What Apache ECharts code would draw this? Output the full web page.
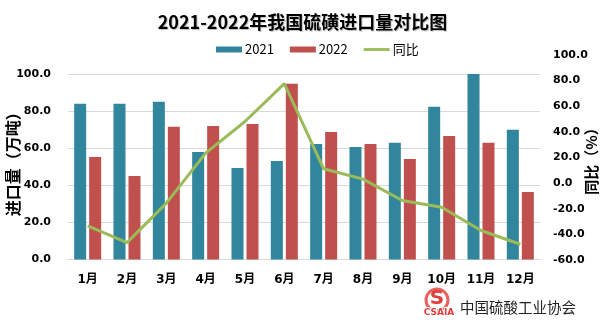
<!DOCTYPE html>
<html>
<head>
<meta charset="utf-8">
<script src="https://cdn.jsdelivr.net/npm/echarts@6/dist/echarts.min.js"></script>
<style>html,body{margin:0;padding:0;background:#fff}#c{width:605px;height:324px}</style>
</head>
<body>
<div id="c"></div>
<script>
var titleText = '2021-2022年我国硫磺进口量对比图';
var months = ['1月','2月','3月','4月','5月','6月','7月','8月','9月','10月','11月','12月'];
var v2021 = [83.9, 83.9, 85.0, 58.0, 49.3, 53.1, 62.3, 60.7, 62.9, 82.3, 100.0, 69.9];
var v2022 = [55.3, 45.0, 71.5, 72.0, 73.1, 94.8, 68.8, 62.3, 54.2, 66.6, 62.9, 36.4];
var yoy = [-33.4, -46.4, -15.6, 23.4, 48.1, 77.6, 11.2, 3.1, -13.6, -18.8, -37.0, -47.7];
var seriesNames = ['2021', '2022', '同比'];
var leftName = '进口量（万吨）';
var rightName = '同比（%）';
var sourceText = '中国硫酸工业协会';

var NUMF = 'DejaVu Sans, "Noto Sans CJK SC", sans-serif';
var CJKF = '"Noto Sans CJK SC", sans-serif';
var chart = echarts.init(document.getElementById('c'), null, {renderer: 'canvas'});
chart.setOption({
  animation: false,
  backgroundColor: '#fff',
  title: {
    text: titleText, left: 'center', top: 13, padding: 0,
    textStyle: {fontFamily: CJKF, fontSize: 18, fontWeight: 'bold', color: '#000',
      textShadowColor: 'rgba(0,0,0,0.25)', textShadowOffsetX: 1, textShadowOffsetY: 1, textShadowBlur: 1}
  },
  legend: {
    left: 216, top: 43, padding: 0, itemWidth: 26, itemHeight: 6, itemGap: 16,
    textStyle: {fontFamily: CJKF, fontSize: 13, color: '#000', padding: [0,0,0,-2]},
    data: [
      {name: seriesNames[0], icon: 'rect'},
      {name: seriesNames[1], icon: 'rect'},
      {name: seriesNames[2], icon: 'path://M0,0 M0,1.6 L26,1.6 L26,4.4 L0,4.4 Z M26,6'}
    ]
  },
  grid: [
    {left: 68, right: 65, top: 74, bottom: 64.5, outerBoundsMode: 'none', containLabel: false},
    {left: 68, right: 65, top: 55, bottom: 64, outerBoundsMode: 'none', containLabel: false}
  ],
  xAxis: [
    {type: 'category', gridIndex: 0, data: months,
      axisLine: {lineStyle: {color: '#D9D9D9'}}, axisTick: {show: false},
      axisLabel: {fontFamily: NUMF, fontWeight: 'bold', fontSize: 12, color: '#000', margin: 14}},
    {type: 'category', gridIndex: 1, data: months, show: false}
  ],
  yAxis: [
    {type: 'value', gridIndex: 0, min: 0, max: 100, interval: 20,
      name: leftName, nameLocation: 'middle', nameGap: 47, nameMoveOverlap: false,
      nameTextStyle: {fontFamily: CJKF, fontSize: 16, fontWeight: 'bold', color: '#000', padding: [0,0,0,13]},
      axisLine: {show: false}, axisTick: {show: false},
      splitLine: {lineStyle: {color: '#D9D9D9'}},
      axisLabel: {fontFamily: NUMF, fontWeight: 'bold', fontSize: 11, color: '#000', margin: 17,
        formatter: function (v) { return v.toFixed(1); }}},
    {type: 'value', gridIndex: 1, position: 'right', min: -60, max: 100, interval: 20,
      name: rightName, nameLocation: 'middle', nameGap: 44, nameRotate: 90, nameMoveOverlap: false,
      nameTextStyle: {fontFamily: CJKF, fontSize: 15, fontWeight: 'bold', color: '#000'},
      axisLine: {show: false}, axisTick: {show: false}, splitLine: {show: false},
      axisLabel: {fontFamily: NUMF, fontWeight: 'bold', fontSize: 11, color: '#000', margin: 13,
        formatter: function (v) { return v.toFixed(1); }}}
  ],
  series: [
    {name: seriesNames[0], type: 'bar', xAxisIndex: 0, yAxisIndex: 0, data: v2021,
      barWidth: 12, barGap: '25%', itemStyle: {color: '#31859C'}},
    {name: seriesNames[1], type: 'bar', xAxisIndex: 0, yAxisIndex: 0, data: v2022,
      barWidth: 12, barGap: '25%', itemStyle: {color: '#C0504D'}},
    {name: seriesNames[2], type: 'line', xAxisIndex: 1, yAxisIndex: 1, data: yoy,
      symbol: 'none', lineStyle: {color: '#9BBB59', width: 3}, itemStyle: {color: '#9BBB59'}}
  ],
  graphic: [
    {type: 'circle', shape: {cx: 437, cy: 300, r: 11}, style: {fill: '#fff', stroke: '#E8625E', lineWidth: 3}},
    {type: 'text', x: 437, y: 299, style: {text: 'S', font: 'bold 20px "DejaVu Sans"', fill: '#E0403C', align: 'center', verticalAlign: 'middle'}},
    {type: 'text', x: 439, y: 312.5, style: {text: 'CSAIA', font: 'bold 9px "DejaVu Sans"', fill: '#E0403C', stroke: '#fff', lineWidth: 2, align: 'center', verticalAlign: 'middle'}},
    {type: 'text', x: 460, y: 307.5, style: {text: sourceText, font: '14.5px "Noto Sans CJK SC"', fill: '#222', align: 'left', verticalAlign: 'middle'}}
  ]
});
</script>
</body>
</html>
